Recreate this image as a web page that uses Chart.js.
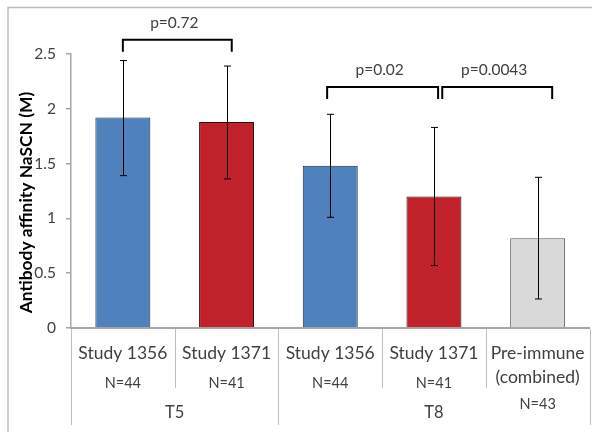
<!DOCTYPE html>
<html lang="en">
<head>
    <meta charset="UTF-8">
    <title>Antibody affinity NaSCN</title>
    <script src="https://cdn.jsdelivr.net/npm/chart.js@4.4.1/dist/chart.umd.min.js"></script>
    <style>
        html, body { margin: 0; padding: 0; background: #fff; }
        canvas { display: block; }
    </style>
</head>
<body>
    <canvas id="grafico" width="592" height="432"></canvas>
    <script>
        // Datos
        const categorias = ['Study 1356', 'Study 1371', 'Study 1356', 'Study 1371', 'Pre-immune\n(combined)'];
        const nLabels = ['N=44', 'N=41', 'N=44', 'N=41', 'N=43'];
        const grupos = ['T5', 'T8'];
        const grupoInicio = [0, 2];
        const grupoFin = [1, 4];
        const medias = [1.92, 1.88, 1.48, 1.20, 0.82];
        const errorBajo = [1.39, 1.36, 1.01, 0.57, 0.265];
        const errorAlto = [2.44, 2.39, 1.95, 1.83, 1.375];
        const yTicks = [0, 0.5, 1, 1.5, 2, 2.5];

        // Corchetes de comparación (en unidades de categoría / eje y)
        const pTextos = ['p=0.72', 'p=0.02', 'p=0.0043'];
        const pDesde = [0, 1.97, 3.08];
        const pHasta = [1.05, 3.04, 4.14];
        const pNivel = [2.63, 2.20, 2.20];
        const pPata = [2.52, 2.09, 2.09];

        const colores = ['#4f81bd', '#c0212a', '#4f81bd', '#c0212a', '#d9d9d9'];
        const bordes = ['#1d2a3a', '#2a1012', '#1d2a3a', '#2a1012', '#555555'];

        const FUENTE = 'Lato, "Liberation Sans", sans-serif';
        const TEXTO = '#404040';

        // Marco gris alrededor de la figura
        const marco = {
            id: 'marco',
            beforeDraw(chart) {
                const ctx = chart.ctx;
                ctx.save();
                ctx.fillStyle = '#fff';
                ctx.fillRect(0, 0, chart.width, chart.height);
                ctx.strokeStyle = '#bdbdbd';
                ctx.lineWidth = 1.5;
                ctx.strokeRect(8, 7.5, 700, 600);
                ctx.restore();
            }
        };

        // Barras de error
        const barrasError = {
            id: 'barrasError',
            afterDatasetsDraw(chart) {
                const ctx = chart.ctx;
                const x = chart.scales.x, y = chart.scales.y;
                ctx.save();
                ctx.strokeStyle = '#000';
                ctx.lineWidth = 1;
                medias.forEach((m, i) => {
                    const px = Math.round(x.getPixelForValue(i)) + 0.5;
                    const hi = y.getPixelForValue(errorAlto[i]);
                    const lo = y.getPixelForValue(errorBajo[i]);
                    ctx.beginPath();
                    ctx.moveTo(px, hi); ctx.lineTo(px, lo);
                    ctx.moveTo(px - 3.5, hi); ctx.lineTo(px + 3.5, hi);
                    ctx.moveTo(px - 3.5, lo); ctx.lineTo(px + 3.5, lo);
                    ctx.stroke();
                });
                ctx.restore();
            }
        };

        // Corchetes con valores p, etiquetas del eje x y título del eje y
        const anotaciones = {
            id: 'anotaciones',
            afterDraw(chart) {
                const ctx = chart.ctx;
                const x = chart.scales.x, y = chart.scales.y;
                const area = chart.chartArea;
                ctx.save();

                // corchetes
                ctx.strokeStyle = '#000';
                ctx.lineWidth = 2;
                ctx.fillStyle = TEXTO;
                ctx.font = '15.5px ' + FUENTE;
                ctx.textAlign = 'center';
                ctx.textBaseline = 'middle';
                pTextos.forEach((t, i) => {
                    const x1 = x.getPixelForValue(pDesde[i]);
                    const x2 = x.getPixelForValue(pHasta[i]);
                    const yl = y.getPixelForValue(pNivel[i]);
                    const yp = y.getPixelForValue(pPata[i]);
                    ctx.beginPath();
                    ctx.moveTo(x1, yp); ctx.lineTo(x1, yl); ctx.lineTo(x2, yl); ctx.lineTo(x2, yp);
                    ctx.stroke();
                    ctx.fillText(t, (x1 + x2) / 2 - 3, yl - 17);
                });

                // divisores bajo el eje x
                ctx.strokeStyle = '#bfbfbf';
                ctx.lineWidth = 1;
                for (let i = 0; i <= categorias.length; i++) {
                    const px = Math.round(x.getPixelForValue(i - 0.5)) + 0.5;
                    const esGrupo = grupoInicio.includes(i) || i === categorias.length;
                    ctx.beginPath();
                    ctx.moveTo(px, area.bottom + 1);
                    ctx.lineTo(px, esGrupo ? 425 : 388);
                    ctx.stroke();
                }

                // etiquetas de categoría
                ctx.fillStyle = TEXTO;
                categorias.forEach((c, i) => {
                    const px = x.getPixelForValue(i);
                    const lineas = c.split('\n');
                    ctx.font = '17.5px ' + FUENTE;
                    lineas.forEach((l, k) => ctx.fillText(l, px, 353 + k * 24));
                    ctx.font = '14.5px ' + FUENTE;
                    ctx.fillText(nLabels[i], px, lineas.length > 1 ? 404 : 383);
                });

                // grupos
                ctx.font = '16.5px ' + FUENTE;
                grupos.forEach((g, i) => {
                    const a = x.getPixelForValue(grupoInicio[i] - 0.5);
                    const b = x.getPixelForValue(grupoFin[i] + 0.5);
                    ctx.fillText(g, (a + b) / 2, 413);
                });

                // título del eje y
                ctx.translate(26.5, 202.5);
                ctx.rotate(-Math.PI / 2);
                ctx.font = 'bold 17.4px ' + FUENTE;
                ctx.fillStyle = '#000';
                ctx.fillText('Antibody affinity NaSCN (M)', 0, 0);
                ctx.restore();
            }
        };

        new Chart(document.getElementById('grafico'), {
            type: 'bar',
            data: {
                labels: categorias,
                datasets: [{
                    data: medias,
                    backgroundColor: colores,
                    borderColor: bordes,
                    borderWidth: 1,
                    categoryPercentage: 1,
                    barPercentage: 0.53
                }]
            },
            options: {
                responsive: false,
                animation: false,
                devicePixelRatio: 1,
                layout: { padding: { top: 54, right: 2.5, left: 0, bottom: 0 } },
                plugins: { legend: { display: false }, tooltip: { enabled: false } },
                scales: {
                    x: {
                        offset: true,
                        ticks: { display: false },
                        grid: { display: false },
                        border: { display: true, color: '#a6a6a6', width: 2 },
                        afterFit(scale) { scale.height = 104; }
                    },
                    y: {
                        min: 0,
                        max: 2.5,
                        afterBuildTicks(scale) { scale.ticks = yTicks.map(v => ({ value: v })); },
                        ticks: {
                            color: TEXTO,
                            padding: 10,
                            font: { family: FUENTE, size: 15.5 },
                            callback: v => String(v)
                        },
                        grid: { drawOnChartArea: false, drawTicks: true, tickLength: 5, color: '#a6a6a6', lineWidth: 1.5 },
                        border: { display: true, color: '#a6a6a6', width: 1.5 },
                        afterFit(scale) { scale.width = 71; }
                    }
                }
            },
            plugins: [marco, barrasError, anotaciones]
        });
    </script>
</body>
</html>
